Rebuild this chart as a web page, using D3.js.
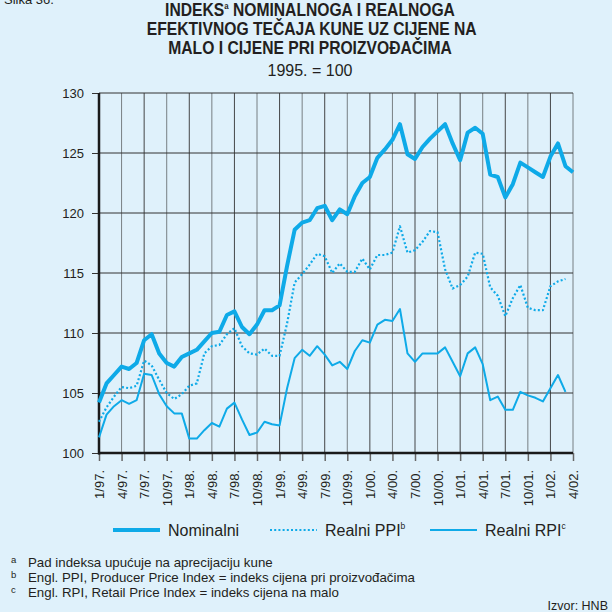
<!DOCTYPE html>
<html>
<head>
<meta charset="utf-8">
<script src="https://cdn.jsdelivr.net/npm/d3@7"></script>
<style>
  body { margin: 0; background: #dff1fb; }
  svg { display: block; }
  text { font-family: "Liberation Sans", Arial, sans-serif; fill: #231f20; }
</style>
</head>
<body>
<svg id="chart" width="612" height="612"></svg>
<script>
// monthly values, 1/97 .. 4/02
const months = d3.range(64).map(i => ({ m: (i % 12) + 1, y: 97 + Math.floor(i / 12) }));

const nominalni = [
  104.2, 105.8, 106.5, 107.2, 107.0, 107.5, 109.4, 109.9, 108.3, 107.5, 107.2, 108.0,
  108.3, 108.6, 109.3, 110.0, 110.1, 111.5, 111.8, 110.5, 109.9, 110.7, 111.9, 111.9,
  112.3, 115.6, 118.6, 119.2, 119.4, 120.4, 120.6, 119.4, 120.3, 119.9, 121.4, 122.5,
  123.0, 124.6, 125.3, 126.1, 127.4, 124.9, 124.5, 125.5, 126.2, 126.8, 127.4, 125.8,
  124.4, 126.7, 127.1, 126.6, 123.2, 123.0, 121.3, 122.4, 124.2, 123.8, 123.4, 123.0,
  124.7, 125.8, 123.9, 123.4
];
const realniPPI = [
  102.6, 103.8, 104.7, 105.5, 105.4, 105.6, 107.7, 107.3, 106.1, 105.0, 104.5, 104.9,
  105.6, 105.8, 108.3, 108.9, 109.0, 109.9, 110.4, 108.9, 108.3, 108.2, 108.7, 108.1,
  108.1, 110.8, 114.2, 114.9, 115.7, 116.6, 116.4, 115.0, 115.8, 115.1, 115.1, 116.2,
  115.3, 116.5, 116.5, 116.7, 118.9, 116.7, 116.9, 117.6, 118.5, 118.4, 115.3, 113.7,
  114.0, 114.7, 116.7, 116.6, 113.8, 113.1, 111.4, 112.9, 114.0, 112.1, 111.9, 111.9,
  113.9, 114.3, 114.5, null
];
const realniRPI = [
  101.3, 103.2, 103.9, 104.4, 104.1, 104.4, 106.6, 106.5, 104.9, 103.9, 103.3, 103.3,
  101.2, 101.2, 101.9, 102.5, 102.2, 103.7, 104.2, 102.8, 101.5, 101.7, 102.6, 102.4,
  102.3, 105.4, 107.9, 108.6, 108.1, 108.9, 108.2, 107.3, 107.6, 107.0, 108.5, 109.4,
  109.2, 110.7, 111.1, 111.0, 112.0, 108.3, 107.6, 108.3, 108.3, 108.3, 108.8, 107.6,
  106.4, 108.3, 108.8, 107.4, 104.4, 104.7, 103.6, 103.6, 105.1, 104.8, 104.6, 104.3,
  105.4, 106.5, 105.1, null
];
const yTicks = [100, 105, 110, 115, 120, 125, 130];
const xTicks = d3.range(0, 64, 3);

const BLUE = '#0eaae8';
const GRID = '#333333';

const LEFT = 99, RIGHT = 573, TOP = 93, BOTTOM = 453;

const svg = d3.select('#chart');
svg.append('rect').attr('width', 612).attr('height', 612).attr('fill', '#dff1fb');

const x = d3.scaleLinear().domain([0, 63]).range([LEFT, RIGHT]);
const y = d3.scaleLinear().domain([100, 130]).range([BOTTOM, TOP]);

// title
svg.append('text').attr('x', 4).attr('y', 4).style('font-size', '13px').text('Slika 36.');

// condensed bold title: regular bold squeezed horizontally
const title = svg.append('g').attr('transform', 'translate(310,0) scale(0.87,1)')
  .attr('text-anchor', 'middle')
  .style('font-weight', 'bold').style('font-size', '18px');
const t1 = title.append('text').attr('x', 0).attr('y', 16);
t1.append('tspan').text('INDEKS');
t1.append('tspan').attr('dy', -7).style('font-size', '9px').text('a');
t1.append('tspan').attr('dy', 7).text(' NOMINALNOGA I REALNOGA');
title.append('text').attr('x', 2).attr('y', 35).text('EFEKTIVNOG TEČAJA KUNE UZ CIJENE NA');
title.append('text').attr('x', 0).attr('y', 54).text('MALO I CIJENE PRI PROIZVOĐAČIMA');
svg.append('text').attr('x', 310).attr('y', 76).attr('text-anchor', 'middle')
  .style('font-size', '16px').text('1995. = 100');

// grid
const grid = svg.append('g').attr('stroke', GRID).attr('stroke-width', 1);
grid.selectAll('line.h').data(yTicks).join('line').attr('class', 'h')
  .attr('x1', LEFT).attr('x2', RIGHT).attr('y1', d => y(d)).attr('y2', d => y(d));
grid.selectAll('line.v').data(xTicks).join('line').attr('class', 'v')
  .attr('y1', TOP).attr('y2', BOTTOM).attr('x1', d => x(d)).attr('x2', d => x(d))
  .attr('stroke-opacity', (d, i) => i % 2 ? 0.6 : 0.9);

// axes
const yAxis = svg.append('g').attr('transform', `translate(${LEFT},0)`)
  .call(d3.axisLeft(y).tickValues(yTicks).tickSize(7).tickPadding(8));
yAxis.select('.domain').remove();
yAxis.selectAll('text').style('font-size', '13px').style('font-family', '"Liberation Sans", sans-serif').attr('fill', '#231f20');
yAxis.selectAll('line').attr('stroke', GRID);

const xAxis = svg.append('g').attr('transform', `translate(0,${BOTTOM})`)
  .call(d3.axisBottom(x).tickValues(xTicks).tickSize(8)
    .tickFormat(i => `${months[i].m}/${String(months[i].y % 100).padStart(2, '0')}.`));
xAxis.select('.domain').remove();
xAxis.selectAll('line').attr('stroke', '#666').attr('stroke-width', 1.5);
xAxis.selectAll('text')
  .style('font-size', '13px').style('font-family', '"Liberation Sans", sans-serif').attr('fill', '#231f20')
  .attr('text-anchor', 'end').attr('transform', 'rotate(-90)')
  .attr('x', -17).attr('y', 0).attr('dy', '0.35em');

svg.append('line').attr('x1', LEFT).attr('x2', LEFT).attr('y1', TOP).attr('y2', BOTTOM + 1.5)
  .attr('stroke', '#1a1a1a').attr('stroke-width', 2.5);
svg.append('line').attr('x1', LEFT - 1).attr('x2', RIGHT).attr('y1', BOTTOM).attr('y2', BOTTOM)
  .attr('stroke', '#1a1a1a').attr('stroke-width', 2.5);

// lines
const line = d3.line().defined(d => d != null).x((d, i) => x(i)).y(d => y(d));
const series = [
  { name: 'Nominalni', sup: '', data: nominalni, width: 4, dash: null },
  { name: 'Realni PPI', sup: 'b', data: realniPPI, width: 2.2, dash: '2,2.2' },
  { name: 'Realni RPI', sup: 'c', data: realniRPI, width: 2, dash: null }
];
svg.append('g').selectAll('path').data(series).join('path')
  .attr('d', s => line(s.data))
  .attr('fill', 'none').attr('stroke', BLUE)
  .attr('stroke-width', s => s.width)
  .attr('stroke-dasharray', s => s.dash)
  .attr('stroke-linejoin', 'round');

// legend
const legendX = [113, 270, 430];
const legend = svg.append('g').selectAll('g').data(series).join('g')
  .attr('transform', (s, i) => `translate(${legendX[i]},530)`);
legend.append('line').attr('x1', 0).attr('x2', 47)
  .attr('stroke', BLUE).attr('stroke-width', s => s.width).attr('stroke-dasharray', s => s.dash);
const lt = legend.append('text').attr('x', 55).attr('y', 6).style('font-size', '16px');
lt.append('tspan').text(s => s.name);
lt.append('tspan').attr('dy', -7).style('font-size', '8.5px').text(s => s.sup);

// footnotes
const notes = [
  ['a', 'Pad indeksa upućuje na aprecijaciju kune'],
  ['b', 'Engl. PPI, Producer Price Index = indeks cijena pri proizvođačima'],
  ['c', 'Engl. RPI, Retail Price Index = indeks cijena na malo']
];
const fn = svg.append('g').selectAll('g').data(notes).join('g')
  .attr('transform', (d, i) => `translate(0,${566.5 + i * 15})`);
fn.append('text').attr('x', 11).attr('y', -4).style('font-size', '9.5px').text(d => d[0]);
fn.append('text').attr('x', 28).attr('y', 0).style('font-size', '13.3px').text(d => d[1]);
svg.append('text').attr('x', 608).attr('y', 610).attr('text-anchor', 'end')
  .style('font-size', '12.5px').text('Izvor: HNB');
</script>
</body>
</html>
